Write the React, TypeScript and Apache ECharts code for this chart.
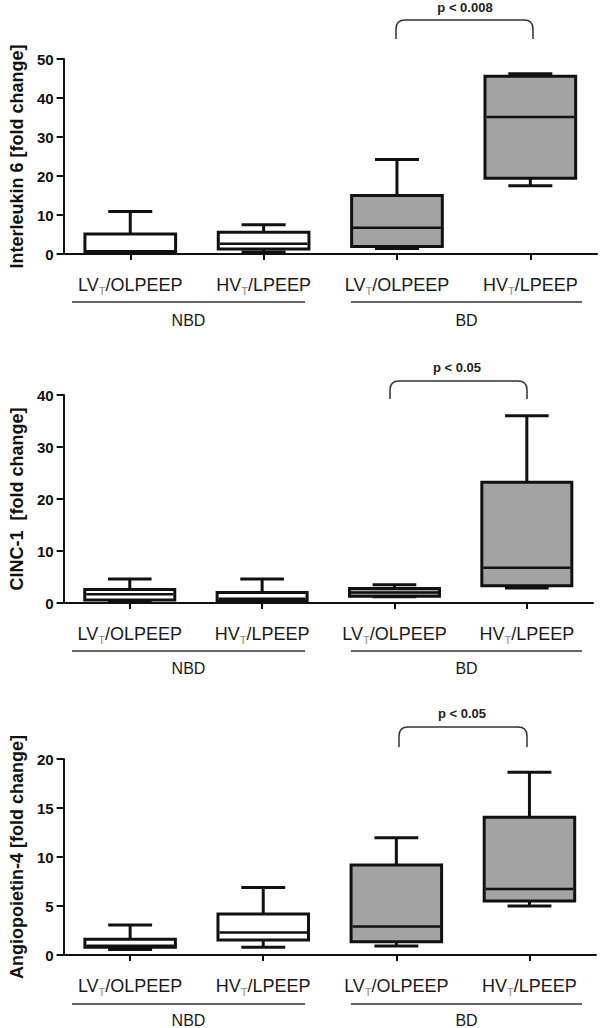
import React, { useEffect, useRef } from 'react';
import * as echarts from 'echarts';

// Category labels (T is drawn as subscript) and treatment groups
const categories = ['LV_T/OLPEEP', 'HV_T/LPEEP', 'LV_T/OLPEEP', 'HV_T/LPEEP'];
const groupOf = ['NBD', 'NBD', 'BD', 'BD'];
const groupNames = ['NBD', 'BD'];

// Box values: [min, Q1, median, Q3, max]
const il6 = [
  [0.3, 0.6, 0.7, 5.1, 10.9],
  [0.5, 1.3, 2.6, 5.6, 7.5],
  [1.4, 1.95, 6.7, 15.0, 24.2],
  [17.5, 19.4, 35.1, 45.6, 46.2],
];
const cinc1 = [
  [0.2, 0.6, 1.7, 2.6, 4.6],
  [0.1, 0.4, 0.8, 2.0, 4.6],
  [1.2, 1.3, 2.0, 2.8, 3.5],
  [2.9, 3.3, 6.8, 23.2, 36.0],
];
const angpt4 = [
  [0.55, 0.8, 0.95, 1.6, 3.06],
  [0.79, 1.53, 2.3, 4.18, 6.9],
  [0.92, 1.36, 2.9, 9.18, 11.97],
  [5.0, 5.5, 6.73, 14.05, 18.64],
];

const panelData = [il6, cinc1, angpt4];
const yTitles = ['Interleukin 6 [fold change]', 'CINC-1  [fold change]', 'Angiopoietin-4 [fold change]'];
const yMaxes = [50, 40, 20];
const yIntervals = [10, 10, 5];
const pTexts = ['p < 0.008', 'p < 0.05', 'p < 0.05'];

// layout
const grids = [
  { left: 58, top: 59, width: 539, height: 195 },
  { left: 58, top: 395, width: 535, height: 208 },
  { left: 58, top: 759, width: 538, height: 196 },
];
const underlineY = [302, 651, 1004];
const groupTextY = [320, 668, 1020];
const groupSpans = [[72, 305], [351, 582]];
const brackets = [
  { x1: 396, x2: 533, top: 20, bottom: 39, ty: 7, tx: 465 },
  { x1: 390, x2: 527, top: 381, bottom: 399, ty: 367, tx: 457 },
  { x1: 399, x2: 527, top: 727, bottom: 747, ty: 713, tx: 462 },
];

const FONT = '"Liberation Sans", Arial, Helvetica, sans-serif';
const GRAY_FILL = '#a3a3a3';

brackets.forEach((b, i) => {
  const w = b.x2 - b.x1;
  const h = b.bottom - b.top;
  const r = 9;
  const d = `M0,${h} L0,${r} Q0,0 ${r},0 L${w - r},0 Q${w},0 ${w},${r} L${w},${h}`;
  echarts.graphic.registerShape('bracket' + i, echarts.graphic.extendPath(d, {}) as any);
});

const renderBox = (params: any, api: any) => {
  const idx = api.value(0);
  const vMin = api.value(1), vQ1 = api.value(2), vMed = api.value(3), vQ3 = api.value(4), vMax = api.value(5);
  const band = api.size([1, 0])[0];
  const bw = band * 0.68;
  const cw = band * 0.33;
  const p = (v: number) => api.coord([idx, v]);
  const cx = p(vMed)[0];
  const yMin = p(vMin)[1], yQ1 = p(vQ1)[1], yMed = p(vMed)[1], yQ3 = p(vQ3)[1], yMax = p(vMax)[1];
  const fill = groupOf[idx] === 'BD' ? GRAY_FILL : '#ffffff';
  const ls = { stroke: '#111', lineWidth: 3 };
  return {
    type: 'group',
    children: [
      { type: 'line', shape: { x1: cx, y1: yMax, x2: cx, y2: yQ3 }, style: ls },
      { type: 'line', shape: { x1: cx - cw / 2, y1: yMax, x2: cx + cw / 2, y2: yMax }, style: ls },
      { type: 'line', shape: { x1: cx, y1: yMin, x2: cx, y2: yQ1 }, style: ls },
      { type: 'line', shape: { x1: cx - cw / 2, y1: yMin, x2: cx + cw / 2, y2: yMin }, style: ls },
      { type: 'rect', shape: { x: cx - bw / 2, y: yQ3, width: bw, height: yQ1 - yQ3 }, style: { fill, stroke: '#111', lineWidth: 3 } },
      { type: 'line', shape: { x1: cx - bw / 2 + 1.5, y1: yMed, x2: cx + bw / 2 - 1.5, y2: yMed }, style: { stroke: '#111', lineWidth: 2.5 } },
    ],
  };
};

export default function App() {
  const ref = useRef<HTMLDivElement>(null);
  useEffect(() => {
    if (!ref.current) return;
    const chart = echarts.init(ref.current, undefined, { renderer: 'svg' });

    const xAxis = grids.map((_, i) => ({
      type: 'category',
      gridIndex: i,
      data: categories,
      boundaryGap: true,
      axisLine: { show: true, lineStyle: { color: '#111', width: 2 } },
      axisTick: { show: true, alignWithLabel: true, length: 6, lineStyle: { color: '#111', width: 2 } },
      axisLabel: {
        margin: 20,
        interval: 0,
        formatter: (v: string) => {
          const [a, b] = v.split('_T');
          return `{n|${a}}{s|T}{n|${b}}`;
        },
        rich: {
          n: { fontSize: 18, fontFamily: FONT, color: '#1a1a1a', lineHeight: 22 },
          s: { fontSize: 11, fontFamily: FONT, color: '#8a8a8a', lineHeight: 11, verticalAlign: 'bottom' },
        },
      },
      splitLine: { show: false },
    }));

    const yAxis = grids.map((_, i) => ({
      type: 'value',
      gridIndex: i,
      min: 0,
      max: yMaxes[i],
      interval: yIntervals[i],
      name: yTitles[i],
      nameLocation: 'middle',
      nameRotate: 90,
      nameGap: 36,
      nameTextStyle: { fontSize: 18, fontWeight: 'bold', fontFamily: FONT, color: '#111' },
      axisLine: { show: true, lineStyle: { color: '#111', width: 2 } },
      axisTick: { show: true, length: 7, lineStyle: { color: '#111', width: 2 } },
      axisLabel: { margin: 10, fontSize: 15, fontWeight: 'bold', fontFamily: FONT, color: '#111' },
      splitLine: { show: false },
    }));

    const series = panelData.map((arr, i) => ({
      type: 'custom',
      xAxisIndex: i,
      yAxisIndex: i,
      renderItem: renderBox,
      encode: { x: 0, y: [1, 2, 3, 4, 5] },
      data: arr.map((d, k) => [k, ...d]),
      clip: false,
    }));

    const graphic: any[] = [];
    underlineY.forEach((ly, pi) => {
      groupSpans.forEach((sp, gi) => {
        graphic.push({
          type: 'line',
          shape: { x1: sp[0], y1: ly, x2: sp[1], y2: ly },
          style: { stroke: '#333', lineWidth: 1.5 },
        });
        graphic.push({
          type: 'text',
          x: (sp[0] + sp[1]) / 2,
          y: groupTextY[pi],
          style: {
            text: groupNames[gi],
            fontSize: 16,
            fontFamily: FONT,
            fill: '#1a1a1a',
            align: 'center',
            verticalAlign: 'middle',
            textAlign: 'center',
            textVerticalAlign: 'middle',
          },
        });
      });
    });
    brackets.forEach((b, i) => {
      graphic.push({
        type: 'bracket' + i,
        x: b.x1,
        y: b.top,
        style: { stroke: '#333', lineWidth: 1.5, fill: 'none' },
      });
      graphic.push({
        type: 'text',
        x: b.tx,
        y: b.ty,
        style: {
          text: pTexts[i],
          fontSize: 13,
          fontWeight: 'bold',
          fontFamily: FONT,
          fill: '#222',
          align: 'center',
          verticalAlign: 'middle',
          textAlign: 'center',
          textVerticalAlign: 'middle',
        },
      });
    });

    chart.setOption({
      animation: false,
      backgroundColor: '#ffffff',
      grid: grids.map((g) => ({ ...g, containLabel: false })),
      xAxis,
      yAxis,
      series,
      graphic,
    } as any);
    return () => chart.dispose();
  }, []);
  return (
    <div
      ref={ref}
      style={{ position: 'absolute', left: 0, top: 0, width: 600, height: 1028, background: '#fff' }}
    />
  );
}
